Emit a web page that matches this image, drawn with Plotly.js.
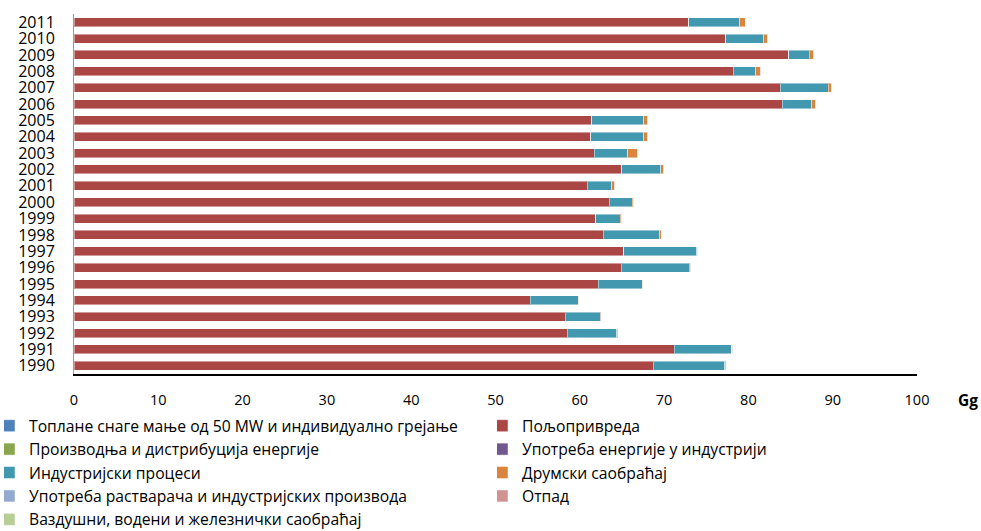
<!DOCTYPE html>
<html><head><meta charset="utf-8">
<script src="https://cdn.plot.ly/plotly-3.0.1.min.js"></script>
<style>body{margin:0;background:#fff}#chart{width:981px;height:531px}</style>
</head><body><div id="chart"></div>
<script>
const years = ['1990','1991','1992','1993','1994','1995','1996','1997','1998','1999','2000','2001','2002','2003','2004','2005','2006','2007','2008','2009','2010','2011'];
const heating      = [0,0,0,0,0,0,0,0,0,0,0,0,0,0,0,0,0,0,0,0,0,0];
const agriculture  = [68.7,71.2,58.5,58.3,54.1,62.2,64.9,65.2,62.8,61.9,63.5,60.9,65.0,61.7,61.3,61.4,84.0,83.8,78.2,84.8,77.3,72.9];
const energyProd   = [0,0,0,0,0,0,0,0,0,0,0,0,0,0,0,0,0,0,0,0,0,0];
const industryEnergy = [0,0,0,0,0,0,0,0,0,0,0,0,0,0,0,0,0,0,0,0,0,0];
const indProcesses = [8.5,6.8,5.9,4.1,5.7,5.2,8.1,8.7,6.7,2.9,2.7,2.9,4.6,4.0,6.3,6.2,3.5,5.7,2.7,2.4,4.5,6.1];
const road         = [0.05,0.05,0.05,0.05,0.05,0.05,0.1,0.1,0.2,0.2,0.2,0.3,0.3,1.1,0.4,0.4,0.5,0.4,0.5,0.5,0.5,0.6];
const solvents     = [0,0,0,0,0,0,0,0,0,0,0,0,0,0,0,0,0,0,0,0,0,0];
const waste        = [0.1,0.1,0.1,0.1,0.1,0.1,0.05,0.05,0.05,0.05,0.05,0.05,0.05,0.05,0.05,0.05,0.05,0.05,0.05,0.05,0.05,0.05];
const otherTransport = [0,0,0,0,0,0,0,0,0,0,0,0,0,0,0,0,0,0,0,0,0,0];

const names = ['Топлане снаге мање од 50 MW и индивидуално грејање','Пољопривреда','Производња и дистрибуција енергије','Употреба енергије у индустрији','Индустријски процеси','Друмски саобраћај','Употреба растварача и индустријских производа','Отпад','Ваздушни, водени и железнички саобраћај'];
const series = [heating, agriculture, energyProd, industryEnergy, indProcesses, road, solvents, waste, otherTransport];
const colors = ['#4F81BD','#AA4643','#89A54E','#71588F','#4198AF','#DB843D','#93A9CF','#D19392','#B9CD96'];

const traces = series.map((v,i)=>({
  type:'bar', orientation:'h', y:years, x:v, name:names[i],
  legend: (i % 2 === 0) ? 'legend' : 'legend2',
  marker:{color:colors[i], line:{color:'rgba(255,255,255,0.45)', width:1}},
  hoverinfo:'x+name'
}));

const font = "'Open Sans', sans-serif";
const legendFont = {family:font, size:15.7, color:'#000'};
const layout = {
  width:981, height:531,
  margin:{l:74, r:64, t:14, b:157, autoexpand:false},
  barmode:'stack', bargap:0.45,
  paper_bgcolor:'#fff', plot_bgcolor:'#fff',
  font:{family:font, size:15, color:'#000'},
  xaxis:{range:[0,100], dtick:10, tick0:0, showgrid:false, zeroline:false,
    showline:true, linecolor:'#000', linewidth:2,
    ticks:'outside', ticklen:12, tickcolor:'rgba(0,0,0,0)',
    tickfont:{family:font, size:14.5, color:'#000'}},
  yaxis:{type:'category', tickmode:'linear', dtick:1, tick0:0, showgrid:false, zeroline:false,
    showline:true, linecolor:'#999', linewidth:1,
    ticks:'outside', ticklen:15, tickcolor:'rgba(0,0,0,0)',
    tickfont:{family:font, size:16, color:'#000'}},
  showlegend:true,
  legend:{orientation:'v', xref:'container', yref:'container', x:4/981, y:1-409/531, yanchor:'top', xanchor:'left',
    traceorder:'normal', font:legendFont, itemwidth:30, indentation:-15, tracegroupgap:0, bgcolor:'rgba(0,0,0,0)'},
  legend2:{orientation:'v', xref:'container', yref:'container', x:497/981, y:1-409/531, yanchor:'top', xanchor:'left',
    traceorder:'normal', font:legendFont, itemwidth:30, indentation:-15, tracegroupgap:0, bgcolor:'rgba(0,0,0,0)'},
  annotations:[{text:'<b>Gg</b>', xref:'paper', yref:'paper', x:1.046, y:-0.072, xanchor:'left', yanchor:'middle', showarrow:false, font:{family:font, size:15.5, color:'#000'}}]
};
Plotly.newPlot('chart', traces, layout, {displayModeBar:false, staticPlot:true});
</script></body></html>
